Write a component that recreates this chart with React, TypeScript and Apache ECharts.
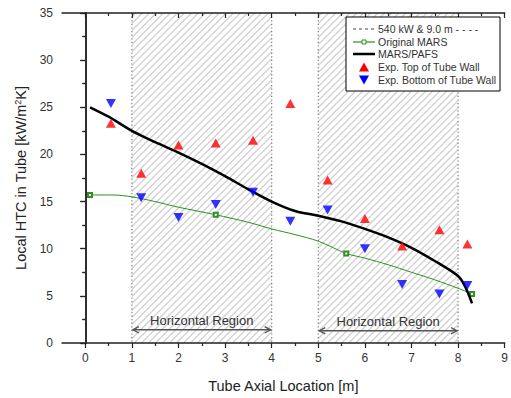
import React, { useEffect, useRef } from "react";
import * as echarts from "echarts";

// ---- data ----
const blackX = [0.1, 0.5, 1.0, 1.5, 2.0, 2.5, 3.0, 3.5, 4.0, 4.5, 5.0, 5.5, 6.0, 6.5, 7.0, 7.5, 8.0, 8.15, 8.3];
const blackY = [25.0, 24.0, 22.5, 21.3, 20.2, 19.0, 17.7, 16.3, 15.0, 14.0, 13.5, 12.9, 12.1, 11.2, 10.1, 8.7, 7.1, 6.0, 4.2];

const greenX = [0.1, 0.6, 1.0, 1.5, 2.0, 2.8, 3.5, 4.0, 4.5, 5.0, 5.6, 6.0, 6.5, 7.0, 7.5, 8.0, 8.3];
const greenY = [15.7, 15.7, 15.5, 15.0, 14.4, 13.6, 12.8, 12.1, 11.5, 10.8, 9.5, 9.0, 8.3, 7.5, 6.7, 5.8, 5.2];
const greenMarked = [true, false, false, false, false, true, false, false, false, false, true, false, false, false, false, false, true];

const expX = [0.55, 1.2, 2.0, 2.8, 3.6, 4.4, 5.2, 6.0, 6.8, 7.6, 8.2];
const topY = [23.3, 18.0, 21.0, 21.2, 21.5, 25.4, 17.3, 13.2, 10.3, 12.0, 10.5];
const bottomY = [25.4, 15.4, 13.3, 14.7, 16.0, 12.9, 14.1, 10.0, 6.2, 5.2, 6.1];

const regionStart = [1, 5];
const regionEnd = [4, 8];
const regionArrowY = [1.4, 1.3];
const regionLabel = ["Horizontal Region", "Horizontal Region"];

const xLabels = [0, 1, 2, 3, 4, 5, 6, 7, 8, 9];
const xMinor = [0.5, 1.5, 2.5, 3.5, 4.5, 5.5, 6.5, 7.5, 8.5];

const legendTitle = "540 kW & 9.0 m - - - -";
const seriesNames = [
  "Original MARS",
  "MARS/PAFS",
  "Exp. Top of Tube Wall",
  "Exp. Bottom of Tube Wall",
];

const FONT = "'Liberation Sans', Arial, sans-serif";
const DOWN_TRI = "path://M0,0L10,0L5,9Z";
const GREEN = "#2f8f22";

function buildLegend() {
  const bx = 346, by = 17, bw = 154, bh = 74;
  const ix0 = 353, ix1 = 375, tx = 378;
  const rows = [29, 42, 54, 67, 80];
  const ic = (ix0 + ix1) / 2;
  const Z = 100;
  const text = (t: string, y: number) => ({
    type: "text",
    z: Z + 1,
    x: tx,
    y,
    style: { text: t, fontSize: 10.5, fontFamily: FONT, fill: "#333", align: "left", verticalAlign: "middle" },
  });
  return [
    { type: "rect", z: Z, shape: { x: bx, y: by, width: bw, height: bh }, style: { fill: "#fff", stroke: "#000", lineWidth: 1 } },
    { type: "line", z: Z + 1, shape: { x1: ix0, y1: rows[0], x2: ix1, y2: rows[0] }, style: { stroke: "#444", lineWidth: 1, lineDash: [3, 3] } },
    text(legendTitle, rows[0]),
    { type: "line", z: Z + 1, shape: { x1: ix0, y1: rows[1], x2: ix1, y2: rows[1] }, style: { stroke: GREEN, lineWidth: 1.2 } },
    { type: "rect", z: Z + 2, shape: { x: ic - 2, y: rows[1] - 2, width: 4, height: 4 }, style: { fill: "#fff", stroke: GREEN, lineWidth: 1 } },
    text(seriesNames[0], rows[1]),
    { type: "line", z: Z + 1, shape: { x1: ix0, y1: rows[2], x2: ix1, y2: rows[2] }, style: { stroke: "#000", lineWidth: 2.5 } },
    text(seriesNames[1], rows[2]),
    { type: "polygon", z: Z + 1, shape: { points: [[ic - 5, rows[3] + 4.5], [ic + 5, rows[3] + 4.5], [ic, rows[3] - 4.5]] }, style: { fill: "#ff0000" } },
    text(seriesNames[2], rows[3]),
    { type: "polygon", z: Z + 1, shape: { points: [[ic - 5, rows[4] - 4.5], [ic + 5, rows[4] - 4.5], [ic, rows[4] + 4.5]] }, style: { fill: "#0000ff" } },
    text(seriesNames[3], rows[4]),
  ];
}

export default function App() {
  const ref = useRef<HTMLDivElement>(null);
  useEffect(() => {
    if (!ref.current) return;
    const chart = echarts.init(ref.current, undefined, { renderer: "svg" });

    const axisLineStyle = { color: "#222", width: 1.5 };
    const baseX = {
      type: "value" as const,
      min: -0.5,
      max: 9,
      splitLine: { show: false },
    };

    const option: any = {
      animation: false,
      backgroundColor: "#fff",
      textStyle: { fontFamily: FONT },
      grid: { left: 62, right: 2, top: 13, bottom: 54 },
      legend: { show: false },
      graphic: buildLegend(),
      xAxis: [
        {
          ...baseX,
          position: "bottom",
          name: "Tube Axial Location [m]",
          nameLocation: "middle",
          nameGap: 35,
          nameTextStyle: { fontSize: 14.5, color: "#222", fontFamily: FONT },
          axisLine: { show: true, lineStyle: axisLineStyle },
          axisTick: { show: true, inside: false, length: 5, customValues: xLabels, lineStyle: { color: "#222", width: 1.2 } },
          axisLabel: { show: true, customValues: xLabels, margin: 9, fontSize: 12, color: "#333", fontFamily: FONT },
        },
        {
          ...baseX,
          position: "bottom",
          axisLine: { show: false },
          axisTick: { show: true, inside: false, length: 3, customValues: xMinor, lineStyle: { color: "#222", width: 1.2 } },
          axisLabel: { show: false },
        },
        {
          ...baseX,
          position: "top",
          axisLine: { show: true, lineStyle: axisLineStyle },
          axisTick: { show: true, inside: true, length: 5, customValues: xLabels, lineStyle: { color: "#222", width: 1.2 } },
          axisLabel: { show: false },
        },
        {
          ...baseX,
          position: "top",
          axisLine: { show: false },
          axisTick: { show: true, inside: true, length: 3, customValues: xMinor, lineStyle: { color: "#222", width: 1.2 } },
          axisLabel: { show: false },
        },
      ],
      yAxis: [
        {
          type: "value",
          position: "left",
          min: 0,
          max: 35,
          interval: 5,
          name: "Local HTC in Tube [kW/m{sup|2}K]",
          nameLocation: "middle",
          nameGap: 33,
          nameTextStyle: {
            fontSize: 14.5,
            color: "#222",
            fontFamily: FONT,
            rich: { sup: { fontSize: 9, verticalAlign: "top", color: "#222", fontFamily: FONT, padding: [0, 0, 6, 0] } },
          },
          splitLine: { show: false },
          axisLine: { show: true, lineStyle: axisLineStyle },
          axisTick: { show: true, inside: false, length: 5, lineStyle: { color: "#222", width: 1.2 } },
          minorTick: { show: true, splitNumber: 2, length: 3, lineStyle: { color: "#222", width: 1.2 } },
          axisLabel: { margin: 9, fontSize: 12, color: "#333", fontFamily: FONT },
        },
        {
          type: "value",
          position: "right",
          min: 0,
          max: 35,
          interval: 5,
          splitLine: { show: false },
          axisLine: { show: true, lineStyle: axisLineStyle },
          axisTick: { show: true, inside: true, length: 5, lineStyle: { color: "#222", width: 1.2 } },
          minorTick: { show: true, splitNumber: 2, length: 3, lineStyle: { color: "#222", width: 1.2 } },
          axisLabel: { show: false },
        },
      ],
      series: [
        {
          type: "custom",
          name: "regions",
          xAxisIndex: 0,
          yAxisIndex: 0,
          silent: true,
          z: 0,
          clip: false,
          data: regionStart.map((s, i) => [s, regionEnd[i], regionArrowY[i]]),
          renderItem: (params: any, api: any) => {
            const i = params.dataIndex;
            const x0 = api.value(0);
            const x1 = api.value(1);
            const ay = api.value(2);
            const tl = api.coord([x0, 35]);
            const br = api.coord([x1, 0]);
            const L = tl[0], T = tl[1], R = br[0], B = br[1];
            const children: any[] = [];
            const step = 7;
            for (let c = L + T + step / 2; c < R + B; c += step) {
              const xa = Math.max(L, c - B);
              const xb = Math.min(R, c - T);
              if (xb <= xa) continue;
              children.push({
                type: "line",
                shape: { x1: xa, y1: c - xa, x2: xb, y2: c - xb },
                style: { stroke: "#d2d2d2", lineWidth: 1.3 },
              });
            }
            [L, R].forEach((xx) => {
              children.push({
                type: "line",
                shape: { x1: xx, y1: T, x2: xx, y2: B },
                style: { stroke: "#777", lineWidth: 1.2, lineDash: [1.2, 2.4] },
              });
            });
            const a0 = api.coord([x0, ay]);
            const a1 = api.coord([x1, ay]);
            const ah = 7, aw = 3.2;
            const ac = "#555";
            children.push({
              type: "line",
              shape: { x1: a0[0] + 1, y1: a0[1], x2: a1[0] - 1, y2: a1[1] },
              style: { stroke: ac, lineWidth: 1.4 },
            });
            children.push({
              type: "polyline",
              shape: { points: [[a0[0] + ah, a0[1] - aw], [a0[0] + 1, a0[1]], [a0[0] + ah, a0[1] + aw]] },
              style: { stroke: ac, lineWidth: 1.4, fill: null },
            });
            children.push({
              type: "polyline",
              shape: { points: [[a1[0] - ah, a1[1] - aw], [a1[0] - 1, a1[1]], [a1[0] - ah, a1[1] + aw]] },
              style: { stroke: ac, lineWidth: 1.4, fill: null },
            });
            children.push({
              type: "text",
              x: (a0[0] + a1[0]) / 2,
              y: a0[1] - 3,
              style: {
                text: regionLabel[i],
                fontSize: 13,
                fontFamily: FONT,
                fill: "#333",
                align: "center",
                verticalAlign: "bottom",
              },
            });
            return { type: "group", children };
          },
        },
        {
          type: "line",
          name: seriesNames[0],
          z: 3,
          smooth: 0.3,
          data: greenX.map((x, i) => ({
            value: [x, greenY[i]],
            symbol: greenMarked[i] ? "emptyRect" : "none",
          })),
          symbol: "emptyRect",
          symbolSize: 4,
          showAllSymbol: true,
          lineStyle: { color: GREEN, width: 1 },
          itemStyle: { color: GREEN, borderWidth: 1 },
        },
        {
          type: "line",
          name: seriesNames[1],
          z: 4,
          smooth: 0.3,
          data: blackX.map((x, i) => [x, blackY[i]]),
          symbol: "none",
          lineStyle: { color: "#000", width: 2.5 },
          itemStyle: { color: "#000" },
        },
        {
          type: "scatter",
          name: seriesNames[2],
          z: 5,
          data: expX.map((x, i) => [x, topY[i]]),
          symbol: "triangle",
          symbolSize: [10, 9],
          itemStyle: { color: "#ff0000" },
        },
        {
          type: "scatter",
          name: seriesNames[3],
          z: 5,
          data: expX.map((x, i) => [x, bottomY[i]]),
          symbol: DOWN_TRI,
          symbolSize: [10, 9],
          itemStyle: { color: "#0000ff" },
        },
      ],
    };

    chart.setOption(option);
    return () => chart.dispose();
  }, []);

  return <div ref={ref} style={{ width: 511, height: 398, position: "absolute", left: 0, top: 0 }} />;
}
